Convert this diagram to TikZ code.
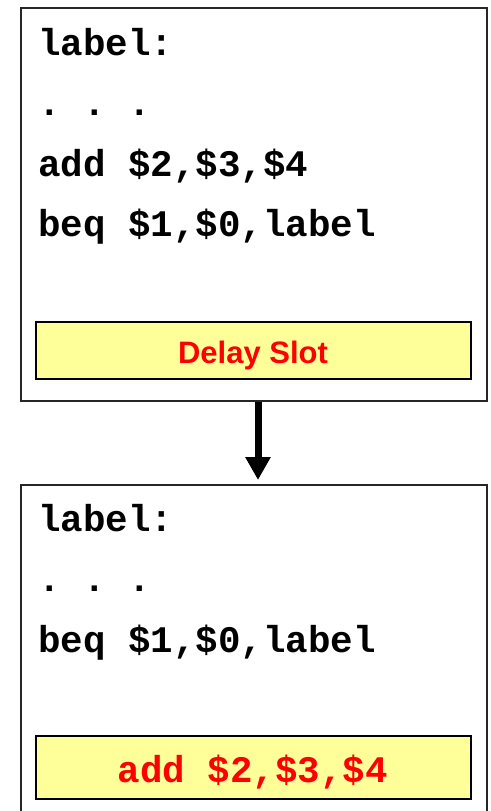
\documentclass[tikz,border=0pt]{standalone}
\usepackage{fontspec}
\setmainfont{Liberation Sans}
\setsansfont{Liberation Sans}
\setmonofont{Liberation Mono}
\usetikzlibrary{arrows.meta}
\definecolor{slotyellow}{HTML}{FFFF99}
\definecolor{slotred}{HTML}{FF0000}
\begin{document}
\begin{tikzpicture}[x=1pt,y=-1pt,
  box/.style={draw=black!85, line width=2pt, fill=white, inner sep=0pt, anchor=north west, minimum width=466pt},
  slotbox/.style={draw=black, line width=2pt, fill=slotyellow, inner sep=0pt, anchor=north west, minimum width=435pt},
  code/.style={font=\ttfamily\bfseries\fontsize{37.5}{37.5}\selectfont, inner sep=0pt, anchor=base west},
  slottext/.style={font=\sffamily\bfseries\fontsize{31}{31}\selectfont, text=slotred, inner sep=0pt, anchor=base},
  slotcode/.style={font=\ttfamily\bfseries\fontsize{37.5}{37.5}\selectfont, text=slotred, inner sep=0pt, anchor=base},
  flow/.style={line width=7pt, -{Triangle[width=24pt,length=23pt]}}]
\useasboundingbox (0,0) rectangle (490,811);
\clip (0,0) rectangle (490,811);
% top box
\node[box, minimum height=393pt] (top) at (20,7) {};
\node[code] (t1) at (38,55) {label:};
\node[code] (t2) at (38,115) {. . .};
\node[code] (t3) at (38,176) {add \$2,\$3,\$4};
\node[code] (t4) at (38,236) {beq \$1,\$0,label};
\node[slotbox, minimum height=57pt] (s1) at (35,321) {};
\node[slottext] (s1t) at (253,363) {Delay Slot};
% bottom box
\node[box, minimum height=340pt] (bot) at (20,484) {};
\node[code] (b1) at (38,531) {label:};
\node[code] (b2) at (38,591) {. . .};
\node[code] (b3) at (38,652) {beq \$1,\$0,label};
\node[slotbox, minimum height=63pt] (s2) at (35,735) {};
\node[slotcode] (s2t) at (253,782) {add \$2,\$3,\$4};
% arrow
\draw[flow, shorten >=4pt] ([xshift=4pt]top.south) -- ([xshift=4pt]bot.north);
\end{tikzpicture}
\end{document}
